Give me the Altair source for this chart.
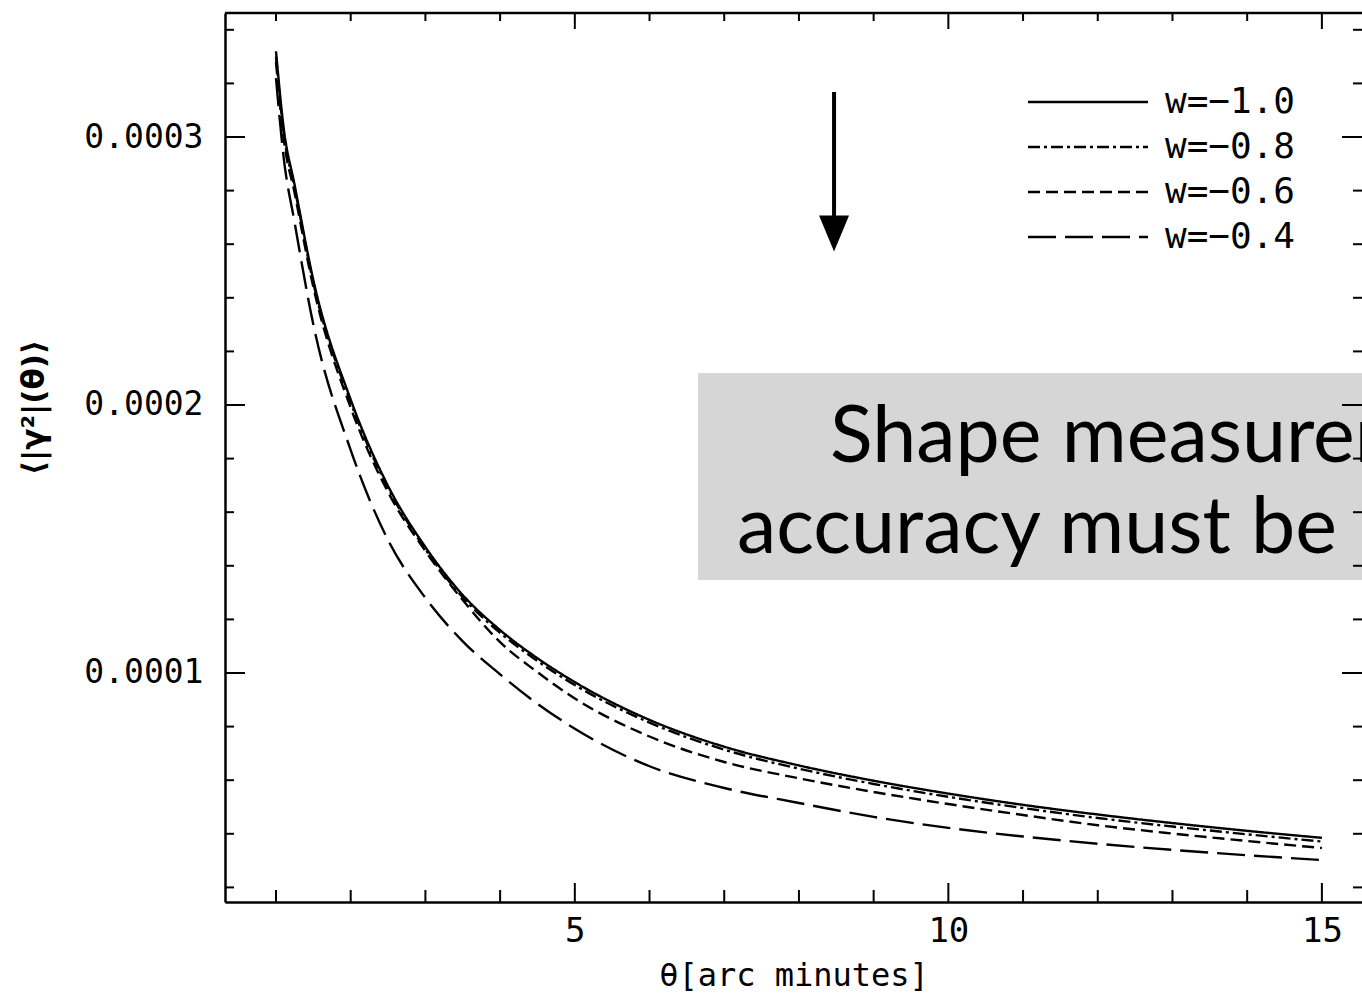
import altair as alt
import pandas as pd

# ---------------- data ----------------
theta = [1, 1.1, 1.25, 1.5, 2, 2.5, 3, 3.5, 4, 4.5, 5, 6, 7, 8, 9, 10, 11, 12, 13, 14, 15]
# <|gamma^2|(theta)> in units of 1e-4
g_w10 = [3.32, 3.04, 2.82, 2.466, 2.02, 1.698, 1.47, 1.291, 1.16, 1.055, 0.966, 0.825, 0.725, 0.655, 0.598, 0.550, 0.508, 0.472, 0.440, 0.411, 0.385]
g_w08 = [3.30, 3.02, 2.81, 2.455, 2.01, 1.690, 1.462, 1.282, 1.15, 1.045, 0.955, 0.815, 0.714, 0.643, 0.586, 0.538, 0.496, 0.459, 0.427, 0.398, 0.371]
g_w06 = [3.28, 3.00, 2.79, 2.440, 1.99, 1.675, 1.455, 1.272, 1.115, 1.003, 0.905, 0.763, 0.668, 0.607, 0.556, 0.511, 0.470, 0.432, 0.401, 0.373, 0.347]
g_w04 = [3.22, 2.93, 2.68, 2.300, 1.832, 1.496, 1.28, 1.118, 0.995, 0.885, 0.792, 0.652, 0.571, 0.515, 0.463, 0.422, 0.390, 0.363, 0.340, 0.320, 0.302]

series_labels = ["w=\u22121.0", "w=\u22120.8", "w=\u22120.6", "w=\u22120.4"]
dash_styles = [[1, 0], [12, 4, 3, 4], [12, 6], [28, 9]]

x_major = [5, 10, 15]
x_minor = [1, 2, 3, 4, 6, 7, 8, 9, 11, 12, 13, 14]
y_major = [0.0001, 0.0002, 0.0003]
y_minor = [0.00002, 0.00004, 0.00006, 0.00008, 0.00012, 0.00014, 0.00016, 0.00018,
           0.00022, 0.00024, 0.00026, 0.00028, 0.00032, 0.00034]

# annotation (arrow + grey box with text)
arrow_x = [8.47]
arrow_top = [3.168e-4]
arrow_base = [2.70e-4]
arrow_head = [2.64e-4]
box_x = [6.65]
box_x2 = [16.5]
box_y = [2.119e-4]
box_y2 = [1.347e-4]
note_x = [8.416, 7.171]
note_y = [1.787e-4, 1.448e-4]
note_text = ["Shape measurement", "accuracy must be"]

# ---------------- build tables ----------------
rows = []
for lab, vals in zip(series_labels, [g_w10, g_w08, g_w06, g_w04]):
    for t, v in zip(theta, vals):
        rows.append({"theta": t, "gamma": v * 1e-4, "w": lab})
df = pd.DataFrame(rows)

W, H = 1137, 889
xs = alt.Scale(domain=[0.3174, 15.537], nice=False, zero=False)
ys = alt.Scale(domain=[0.00001455, 0.00034627], nice=False, zero=False)

x_axis = alt.Axis(values=x_major, ticks=False, grid=False, domain=True, domainColor="black",
                  domainWidth=2.5, labelFont="DejaVu Sans Mono", labelFontSize=34,
                  labelColor="black", labelPadding=12, labelFlush=False,
                  title="\u03b8[arc minutes]", titleFont="DejaVu Sans Mono", titleFontSize=32,
                  titleFontWeight="normal", titleColor="black", titleY=73, titleBaseline="middle")
y_axis = alt.Axis(values=y_major, format=".4f", ticks=False, grid=False, domain=True,
                  domainColor="black", domainWidth=2.5, labelFont="DejaVu Sans Mono",
                  labelFontSize=33, labelColor="black", labelPadding=22,
                  title="\u27e8|\u03b3\u00b2|(\u03b8)\u27e9", titleFont="DejaVu Sans",
                  titleFontSize=31, titleFontWeight="bold", titleColor="black",
                  titleX=-191, titleY=394, titleAngle=270, titleAlign="center",
                  titleBaseline="middle")

lines = alt.Chart(df).mark_line(color="black", strokeWidth=2.4, interpolate="monotone").encode(
    x=alt.X("theta:Q", scale=xs, axis=x_axis),
    y=alt.Y("gamma:Q", scale=ys, axis=y_axis),
    strokeDash=alt.StrokeDash(
        "w:N",
        scale=alt.Scale(domain=series_labels, range=dash_styles),
        sort=series_labels,
        legend=alt.Legend(orient="none", legendX=845, legendY=71, title=None,
                          symbolType="M-6,0H6", symbolSize=400, symbolStrokeWidth=2.4,
                          symbolStrokeColor="black", symbolFillColor="transparent",
                          labelFont="DejaVu Sans Mono", labelFontSize=36, labelColor="black",
                          labelOffset=59, rowPadding=9, padding=0),
    ),
)

box = alt.Chart(pd.DataFrame({"x": box_x, "x2": box_x2, "y": box_y, "y2": box_y2})).mark_rect(
    color="#d6d6d6").encode(
    x=alt.X("x:Q", scale=xs, axis=x_axis), x2="x2:Q",
    y=alt.Y("y:Q", scale=ys, axis=y_axis), y2="y2:Q")

notes = alt.Chart(pd.DataFrame({"x": note_x, "y": note_y, "t": note_text})).mark_text(
    align="left", baseline="alphabetic", font="Lato", fontSize=79, color="black").encode(
    x=alt.X("x:Q", scale=xs, axis=x_axis), y=alt.Y("y:Q", scale=ys, axis=y_axis), text="t:N")

arrow_df = pd.DataFrame({"x": arrow_x, "top": arrow_top, "base": arrow_base, "head": arrow_head})
arrow_shaft = alt.Chart(arrow_df).mark_rule(color="black", strokeWidth=4).encode(
    x=alt.X("x:Q", scale=xs, axis=x_axis), y=alt.Y("top:Q", scale=ys, axis=y_axis), y2="base:Q")
arrow_tip = alt.Chart(arrow_df).mark_point(
    shape="M-1,-1.2L1,-1.2L0,1.2Z", size=900, filled=True, color="black", opacity=1).encode(
    x=alt.X("x:Q", scale=xs, axis=x_axis), y=alt.Y("head:Q", scale=ys, axis=y_axis))


def xticks(vals, y0, y1):
    return alt.Chart(pd.DataFrame({"v": vals})).mark_rule(color="black", strokeWidth=2).encode(
        x=alt.X("v:Q", scale=xs, axis=x_axis), y=alt.value(y0), y2=alt.value(y1))


def yticks(vals, x0, x1):
    return alt.Chart(pd.DataFrame({"v": vals})).mark_rule(color="black", strokeWidth=2).encode(
        y=alt.Y("v:Q", scale=ys, axis=y_axis), x=alt.value(x0), x2=alt.value(x1))


top_frame = alt.Chart(pd.DataFrame({"a": [0]})).mark_rule(color="black", strokeWidth=2.5).encode(
    x=alt.value(0), x2=alt.value(W), y=alt.value(0))

chart = alt.layer(
    lines, box, notes, arrow_shaft, arrow_tip,
    xticks(x_major, H, H - 19), xticks(x_minor, H, H - 12),
    xticks(x_major, 0, 16), xticks(x_minor, 0, 8),
    yticks(y_major, 0, 20), yticks(y_minor, 0, 9),
    yticks(y_major, W, W - 20), yticks(y_minor, W, W - 9),
    top_frame,
).properties(
    width=W, height=H,
    autosize=alt.AutoSizeParams(type="none"),
    padding={"left": 225, "top": 13, "right": 0, "bottom": 90},
    background="white",
).configure_view(stroke=None)

chart.save("out.html", embed_options={"renderer": "svg", "actions": False})
